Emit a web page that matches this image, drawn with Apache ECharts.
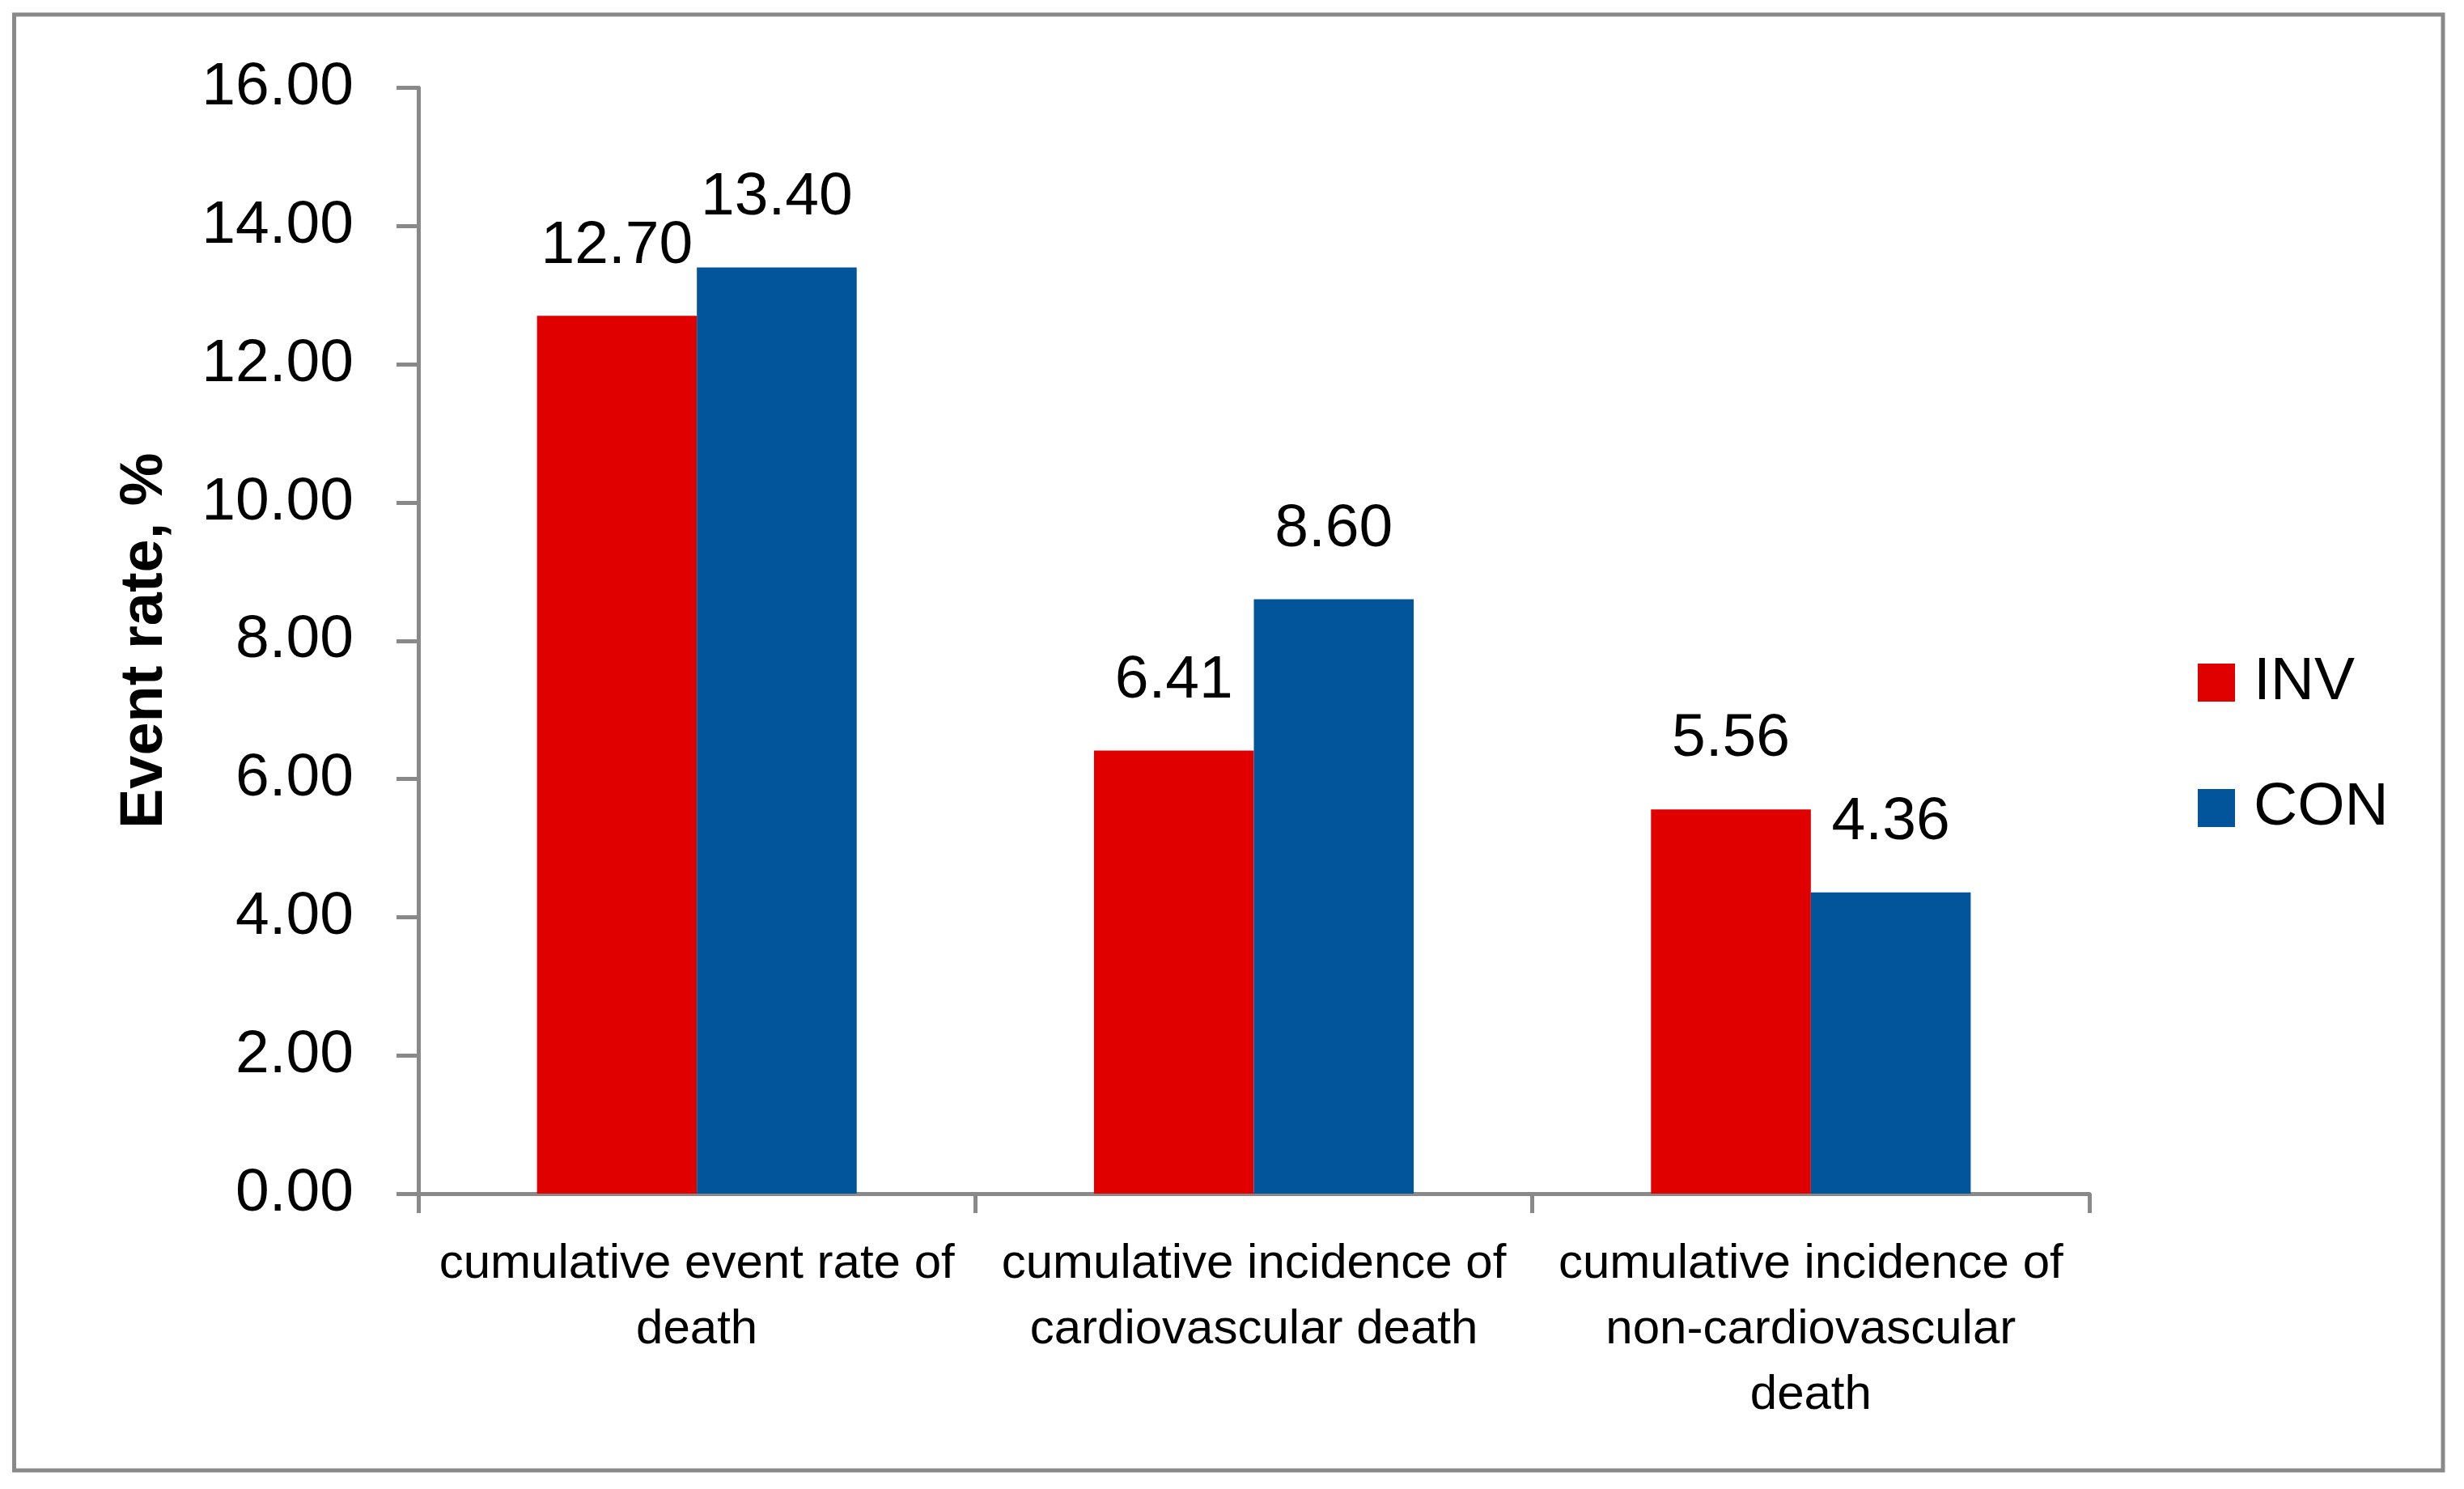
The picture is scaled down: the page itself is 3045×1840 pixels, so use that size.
<!DOCTYPE html>
<html>
<head>
<meta charset="utf-8">
<script src="https://cdn.jsdelivr.net/npm/echarts@6/dist/echarts.min.js"></script>
<style>
  html, body { margin: 0; padding: 0; background: #ffffff; }
  #chart { width: 3045px; height: 1840px; }
</style>
</head>
<body>
<div id="chart"></div>
<script>
// ---- Data ----
const categories = [
  'cumulative event rate of\ndeath',
  'cumulative incidence of\ncardiovascular death',
  'cumulative incidence of\nnon-cardiovascular\ndeath'
];
const seriesNames = ['INV', 'CON'];
const invValues = [12.70, 6.41, 5.56];
const conValues = [13.40, 8.60, 4.36];
const yAxisTitle = 'Event rate, %';
const yMin = 0;
const yMax = 16;
const yInterval = 2;

// ---- Styles ----
const FONT = '"Liberation Sans", Arial, sans-serif';
const AXIS_GRAY = '#898989';
const RED = '#E00000';
const BLUE = '#02559B';

const chart = echarts.init(document.getElementById('chart'), null, { renderer: 'canvas' });

const labelCommon = {
  show: true,
  position: 'top',
  distance: 49,
  color: '#000000',
  fontFamily: FONT,
  fontSize: 75,
  formatter: p => p.value.toFixed(2)
};

const option = {
  backgroundColor: '#ffffff',
  animation: false,
  graphic: [{
    type: 'rect',
    shape: { x: 17.5, y: 18, width: 3001.5, height: 1799 },
    style: { fill: 'none', stroke: AXIS_GRAY, lineWidth: 5 },
    silent: true
  }],
  grid: {
    left: 517,
    right: 463,
    top: 108.5,
    bottom: 365,
    containLabel: false
  },
  legend: {
    orient: 'vertical',
    left: 2716,
    top: 806,
    padding: 0,
    itemWidth: 46,
    itemHeight: 47,
    itemGap: 80,
    icon: 'rect',
    data: seriesNames,
    textStyle: {
      fontFamily: FONT,
      fontSize: 75,
      color: '#000000',
      padding: [0, 0, 0, 18]
    }
  },
  xAxis: {
    type: 'category',
    data: categories,
    boundaryGap: true,
    axisLine: { show: true, lineStyle: { color: AXIS_GRAY, width: 5 } },
    axisTick: { show: true, alignWithLabel: false, length: 24, inside: false, lineStyle: { color: AXIS_GRAY, width: 5 } },
    axisLabel: {
      interval: 0,
      margin: 47,
      color: '#000000',
      fontFamily: FONT,
      fontSize: 60,
      lineHeight: 81,
      align: 'center'
    },
    splitLine: { show: false }
  },
  yAxis: {
    type: 'value',
    min: yMin,
    max: yMax,
    interval: yInterval,
    name: yAxisTitle,
    nameLocation: 'middle',
    nameRotate: 90,
    nameGap: 300,
    nameTextStyle: {
      fontFamily: FONT,
      fontSize: 74,
      fontWeight: 'bold',
      color: '#000000'
    },
    axisLine: { show: true, lineStyle: { color: AXIS_GRAY, width: 5 } },
    axisTick: { show: true, length: 27, inside: false, lineStyle: { color: AXIS_GRAY, width: 5 } },
    axisLabel: {
      margin: 80,
      color: '#000000',
      fontFamily: FONT,
      fontSize: 75,
      formatter: v => v.toFixed(2)
    },
    splitLine: { show: false }
  },
  series: [
    {
      name: seriesNames[0],
      type: 'bar',
      data: invValues,
      barGap: '0%',
      barCategoryGap: '42.6%',
      itemStyle: { color: RED },
      label: labelCommon
    },
    {
      name: seriesNames[1],
      type: 'bar',
      data: conValues,
      barGap: '0%',
      barCategoryGap: '42.6%',
      itemStyle: { color: BLUE },
      label: labelCommon
    }
  ]
};

chart.setOption(option);
</script>
</body>
</html>
